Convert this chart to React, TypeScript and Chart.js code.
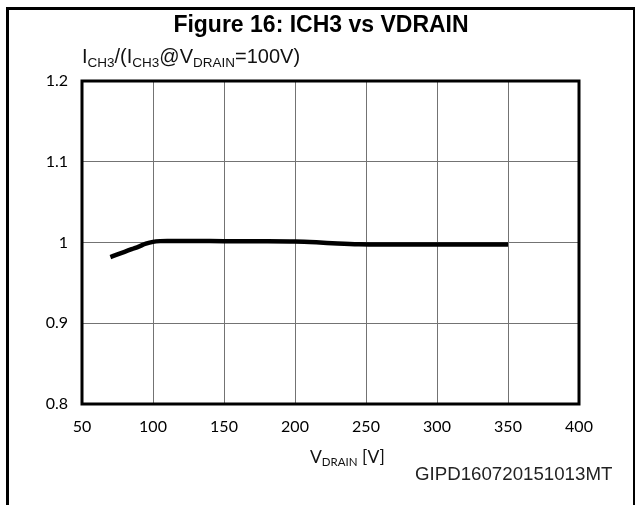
import React, { useEffect, useRef } from "react";
import { Chart, registerables } from "chart.js";

Chart.register(...registerables);

const vDrain = [70, 75, 80, 85, 90, 95, 100, 105, 110, 125, 150, 175, 200, 215, 230, 245, 260, 300, 350];
const ich3Ratio = [0.982, 0.9853, 0.9885, 0.9918, 0.995, 0.9985, 1.0008, 1.0017, 1.0019, 1.0019, 1.0017, 1.0016, 1.0012, 1.0002, 0.9988, 0.9978, 0.9975, 0.9975, 0.9976];
const xTicks = [50, 100, 150, 200, 250, 300, 350, 400];
const yTicks = [0.8, 0.9, 1, 1.1, 1.2];

const titleText = "Figure 16: ICH3 vs VDRAIN";
const yTitleParts = [
  { t: "I" }, { t: "CH3", sub: true }, { t: "/(I" }, { t: "CH3", sub: true },
  { t: "@V" }, { t: "DRAIN", sub: true }, { t: "=100V)" },
];
const xTitleParts = [{ t: "V" }, { t: "DRAIN", sub: true }, { t: " [V]" }];
const figureCode = "GIPD160720151013MT";

type Part = { t: string; sub?: boolean };

function drawRich(ctx: CanvasRenderingContext2D, parts: Part[], x: number, y: number,
  mainFont: string, subFont: string, subDy: number) {
  let cx = x;
  for (const p of parts) {
    ctx.font = p.sub ? subFont : mainFont;
    ctx.fillText(p.t, cx, p.sub ? y + subDy : y);
    cx += ctx.measureText(p.t).width;
  }
}

const decorPlugin = {
  id: "decor",
  beforeDatasetsDraw(chart: any) {
    const { ctx, chartArea: a } = chart;
    ctx.save();
    ctx.strokeStyle = "#000";
    ctx.lineWidth = 3;
    ctx.strokeRect(a.left, a.top, a.right - a.left, a.bottom - a.top);
    ctx.restore();
  },
  afterDraw(chart: any) {
    const { ctx } = chart;
    ctx.save();
    // outer frame
    ctx.fillStyle = "#000";
    ctx.fillRect(6, 7, 3, 498);
    ctx.fillRect(6, 7, 629, 3);
    ctx.fillRect(633, 7, 2, 498);
    // title
    ctx.textBaseline = "alphabetic";
    ctx.textAlign = "center";
    ctx.font = "bold 23px 'Liberation Sans', Arial, sans-serif";
    ctx.fillText(titleText, 321, 32);
    ctx.textAlign = "left";
    // y title
    ctx.fillStyle = "#111";
    drawRich(ctx, yTitleParts, 82, 63,
      "20px 'Liberation Sans', Arial, sans-serif",
      "13.5px 'Liberation Sans', Arial, sans-serif", 4);
    // x title
    drawRich(ctx, xTitleParts, 310, 463,
      "17.5px Lato, sans-serif", "11.5px Lato, sans-serif", 3);
    // code
    ctx.fillStyle = "#222";
    ctx.font = "18.7px 'Liberation Sans', Arial, sans-serif";
    ctx.fillText(figureCode, 415, 480);
    ctx.restore();
  },
};

export default function App() {
  const ref = useRef<HTMLCanvasElement | null>(null);
  useEffect(() => {
    if (!ref.current) return;
    const chart = new Chart(ref.current, {
      type: "line",
      data: {
        datasets: [
          {
            data: vDrain.map((x, i) => ({ x, y: ich3Ratio[i] })),
            borderColor: "#000",
            borderWidth: 4.5,
            pointRadius: 0,
            cubicInterpolationMode: "monotone",
            fill: false,
          },
        ],
      },
      options: {
        responsive: false,
        animation: false,
        devicePixelRatio: 1,
        layout: { padding: { left: 0, top: 81, right: 57, bottom: 0 } },
        plugins: { legend: { display: false }, tooltip: { enabled: false }, title: { display: false } },
        scales: {
          x: {
            type: "linear",
            min: 50,
            max: 400,
            afterBuildTicks: (s: any) => { s.ticks = xTicks.map((v) => ({ value: v })); },
            afterFit: (s: any) => { s.height = 101; },
            ticks: {
              padding: 13,
              color: "#000",
              font: { family: "Lato, sans-serif", size: 16 },
              maxRotation: 0,
              callback: (v: any) => String(v),
            },
            grid: { color: "#737373", lineWidth: 1, drawTicks: false },
            border: { display: false },
          },
          y: {
            type: "linear",
            min: 0.8,
            max: 1.2,
            afterBuildTicks: (s: any) => { s.ticks = yTicks.map((v) => ({ value: v })); },
            afterFit: (s: any) => { s.width = 82; },
            ticks: {
              padding: 14,
              color: "#000",
              font: { family: "Lato, sans-serif", size: 16 },
              callback: (v: any) => String(v),
            },
            grid: { color: "#737373", lineWidth: 1, drawTicks: false },
            border: { display: false },
          },
        },
      },
      plugins: [decorPlugin],
    } as any);
    return () => chart.destroy();
  }, []);
  return (
    <div style={{ position: "absolute", left: 0, top: 0, width: 636, height: 505, background: "#fff" }}>
      <canvas ref={ref} width={636} height={505} style={{ display: "block", width: 636, height: 505 }} />
    </div>
  );
}
